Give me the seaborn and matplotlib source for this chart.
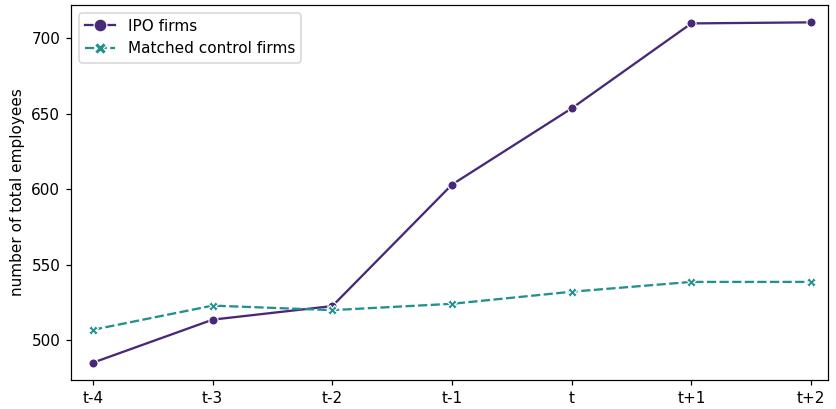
import matplotlib
matplotlib.use("Agg")
import matplotlib.pyplot as plt
import pandas as pd
import seaborn as sns

# Data
periods = ["t-4", "t-3", "t-2", "t-1", "t", "t+1", "t+2"]
ipo_employees = [485, 513.5, 522.5, 603, 653.5, 709.8, 710.5]
control_employees = [506.8, 522.8, 519.8, 524.0, 532.0, 538.5, 538.5]
group_names = ["IPO firms", "Matched control firms"]

df = pd.DataFrame({
    "period": periods * 2,
    "employees": ipo_employees + control_employees,
    "group": [group_names[0]] * len(periods) + [group_names[1]] * len(periods),
})

dpi = 110
fig, ax = plt.subplots(figsize=(836 / dpi, 409 / dpi), dpi=dpi)

sns.lineplot(
    data=df,
    x="period",
    y="employees",
    hue="group",
    style="group",
    markers=["o", "X"],
    dashes=[(None, None), (4, 1.5)],
    palette=["#482878", "#21918c"],
    sort=False,
    ax=ax,
)

ax.set_xlabel("")
ax.set_ylabel("number of total employees")
ax.set_ylim(473.5, 722)
ax.set_yticks([500, 550, 600, 650, 700])
ax.set_xlim(-0.184, 6.142)
ax.legend(loc="upper left", title=None, markerscale=1.4)

fig.subplots_adjust(left=71 / 836, right=828 / 836, top=1 - 5 / 409, bottom=1 - 380 / 409)
fig.savefig("out.png", dpi=dpi)
